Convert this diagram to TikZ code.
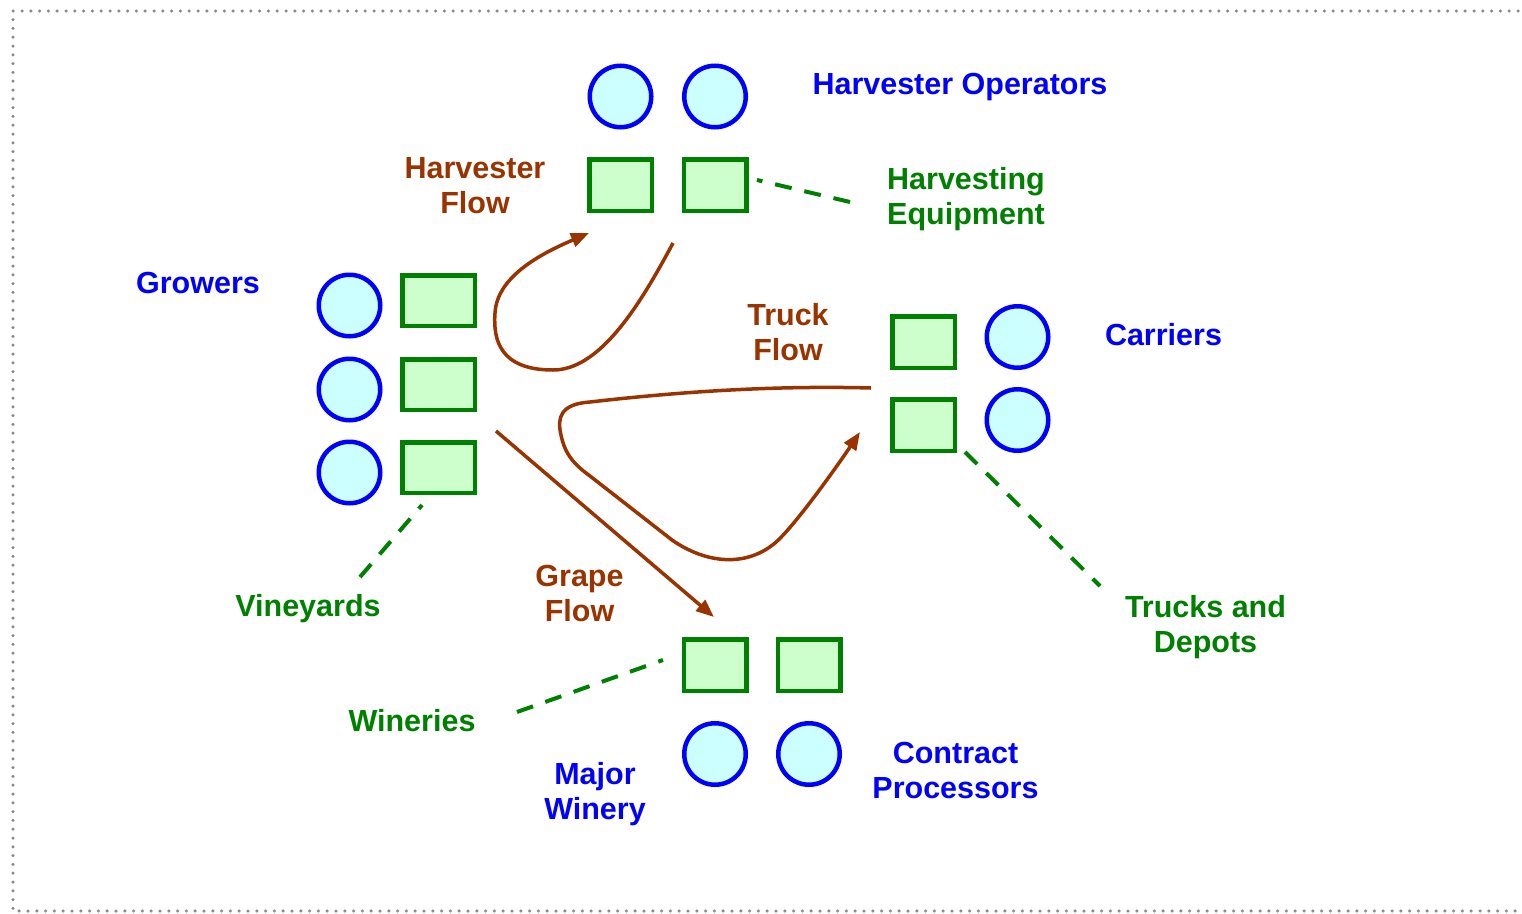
\documentclass[tikz,border=0pt]{standalone}
\usepackage{fontspec}
\setmainfont{Liberation Sans}
\usetikzlibrary{arrows.meta}
\definecolor{roleblue}{HTML}{0000FF}
\definecolor{kitgreen}{HTML}{008000}
\definecolor{flowbrown}{HTML}{993300}
\definecolor{discfill}{HTML}{CCFFFF}
\definecolor{boxfill}{HTML}{CCFFCC}
\definecolor{framegray}{HTML}{8C8C8C}

\begin{document}
\begin{tikzpicture}[x=1pt,y=-1pt,
  disc/.style={circle, draw=roleblue, fill=discfill, line width=4.5pt,
    minimum size=61.5pt, inner sep=0pt},
  gbox/.style={rectangle, draw=kitgreen, fill=boxfill, line width=4.5pt,
    minimum width=62.5pt, minimum height=51.5pt, inner sep=0pt},
  gboxwide/.style={gbox, minimum width=72.5pt, minimum height=50.5pt},
  txt/.style={font=\fontsize{30.5}{35}\selectfont\bfseries, align=center, inner sep=0pt},
  rolelbl/.style={txt, text=roleblue},
  kitlbl/.style={txt, text=kitgreen},
  flowlbl/.style={txt, text=flowbrown},
  flowarrow/.style={draw=flowbrown, line width=3.5pt, line join=round,
    -{Triangle[length=18pt,width=14pt]}},
  leader/.style={draw=kitgreen, line width=4pt, dash pattern=on 17pt off 13pt},
]
\useasboundingbox (0,0) rectangle (1522,913);

% dotted frame, open on the right
\draw[framegray, line width=3.5pt, line cap=round, dash pattern=on 0pt off 8.8pt]
  (1518,11) -- (13,11) -- (13,911) -- (1518,911);

% growers and their vineyards
\node[disc] (g1) at (349.5,305.5) {};
\node[disc] (g2) at (349.5,389.5) {};
\node[disc] (g3) at (349.5,472.5) {};
\node[gboxwide] (v1) at (438.5,300.5) {};
\node[gboxwide] (v2) at (438.5,384.5) {};
\node[gboxwide] (v3) at (438.5,467.5) {};

% harvester operators and equipment
\node[disc] (h1) at (620.5,96.5) {};
\node[disc] (h2) at (715,96.5) {};
\node[gbox] (e1) at (620.5,185) {};
\node[gbox] (e2) at (715,185) {};

% carriers with trucks and depots
\node[gbox] (t1) at (923.5,342) {};
\node[gbox] (t2) at (923.5,425) {};
\node[disc] (c1) at (1017.5,337) {};
\node[disc] (c2) at (1017.5,420) {};

% wineries and processors
\node[gbox] (w1) at (715,665) {};
\node[gbox] (w2) at (809,665) {};
\node[disc] (p1) at (715,754) {};
\node[disc] (p2) at (809,754) {};

% labels
\node[rolelbl, anchor=base] (lops) at (960,94) {Harvester Operators};
\node[flowlbl] (lhflow) at (475,186) {Harvester\\Flow};
\node[kitlbl] (lequip) at (966,199) {Harvesting\\Equipment};
\node[rolelbl, anchor=base] (lgrow) at (198,293) {Growers};
\node[flowlbl] (ltflow) at (788,332) {Truck\\Flow};
\node[rolelbl, anchor=base] (lcarr) at (1163.5,345) {Carriers};
\node[kitlbl, anchor=base] (lvine) at (308,616) {Vineyards};
\node[flowlbl] (lgflow) at (579.5,593) {Grape\\Flow};
\node[kitlbl] (ltruck) at (1205.5,627) {Trucks and\\Depots};
\node[kitlbl, anchor=base] (lwine) at (412,731) {Wineries};
\node[rolelbl] (lmajor) at (595,794) {Major\\Winery};
\node[rolelbl] (lproc) at (955.5,770) {Contract\\Processors};

% connector end points
\coordinate (hfStart) at (673,243);
\coordinate (hfEnd) at (589,233);
\coordinate (tfStart) at (871,388);
\coordinate (tfEnd) at (860,432);
\coordinate (gfStart) at (496,431);
\coordinate (gfEnd) at (714,617);
\coordinate (eqA) at (850,202);
\coordinate (eqB) at (757,180);
\coordinate (vnA) at (360,577);
\coordinate (vnB) at (422,505);
\coordinate (trA) at (965,452);
\coordinate (trB) at (1100,586);
\coordinate (wnA) at (517,712);
\coordinate (wnB) at (663,660);

% harvester flow
\draw[flowarrow] (hfStart)
  .. controls (640,305) and (600,370) .. (553,370)
  .. controls (500,370) and (493,340) .. (495,313)
  .. controls (497,275) and (545,252) .. (hfEnd);

% truck flow
\draw[flowarrow] (tfStart)
  .. controls (760,385) and (660,394) .. (590,402)
  .. controls (560,404) and (557,418) .. (561,435)
  .. controls (565,455) and (575,465) .. (590,476)
  -- (672,540)
  .. controls (705,563) and (745,568) .. (775,543)
  .. controls (795,526) and (840,462) .. (tfEnd);

% grape flow
\draw[flowarrow] (gfStart) -- (gfEnd);

% leader lines
\draw[leader] (eqA) -- (eqB);
\draw[leader] (vnA) -- (vnB);
\draw[leader] (trA) -- (trB);
\draw[leader] (wnA) -- (wnB);
\end{tikzpicture}
\end{document}
